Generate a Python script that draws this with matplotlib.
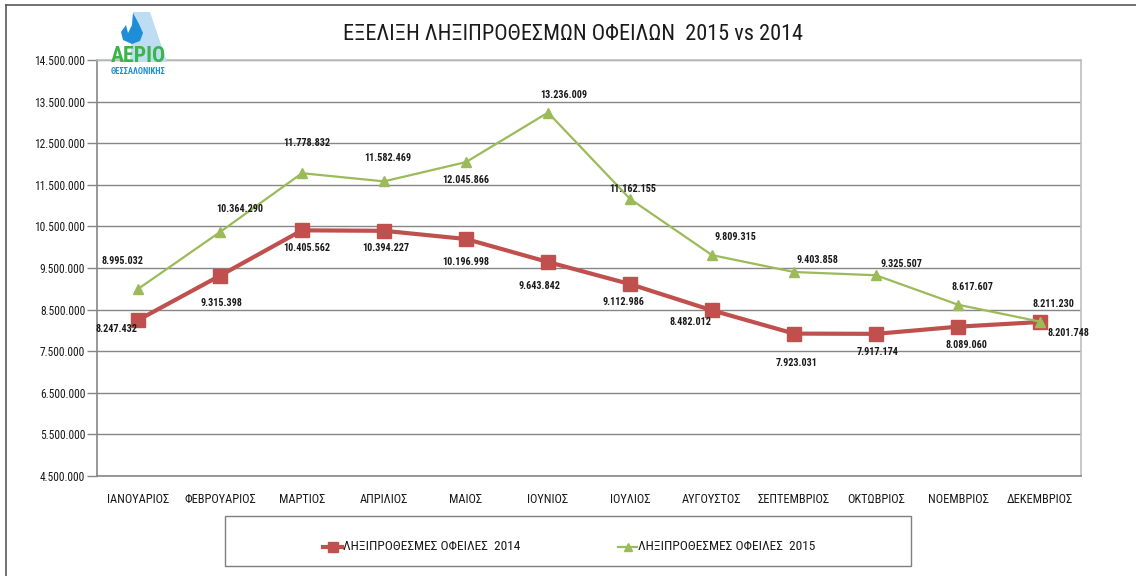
import matplotlib
matplotlib.use("Agg")
import matplotlib.pyplot as plt
from matplotlib import font_manager
from matplotlib.lines import Line2D
from matplotlib.patches import Polygon, Rectangle
from matplotlib.ticker import FuncFormatter

title = "ΕΞΕΛΙΞΗ ΛΗΞΙΠΡΟΘΕΣΜΩΝ ΟΦΕΙΛΩΝ  2015 vs 2014"
months = ["ΙΑΝΟΥΑΡΙΟΣ", "ΦΕΒΡΟΥΑΡΙΟΣ", "ΜΑΡΤΙΟΣ", "ΑΠΡΙΛΙΟΣ", "ΜΑΙΟΣ", "ΙΟΥΝΙΟΣ",
          "ΙΟΥΛΙΟΣ", "ΑΥΓΟΥΣΤΟΣ", "ΣΕΠΤΕΜΒΡΙΟΣ", "ΟΚΤΩΒΡΙΟΣ", "ΝΟΕΜΒΡΙΟΣ", "ΔΕΚΕΜΒΡΙΟΣ"]
label_2014 = "ΛΗΞΙΠΡΟΘΕΣΜΕΣ ΟΦΕΙΛΕΣ  2014"
label_2015 = "ΛΗΞΙΠΡΟΘΕΣΜΕΣ ΟΦΕΙΛΕΣ  2015"
values_2014 = [8247432, 9315398, 10405562, 10394227, 10196998, 9643842,
               9112986, 8482012, 7923031, 7917174, 8089060, 8201748]
values_2015 = [8995032, 10364290, 11778832, 11582469, 12045866, 13236009,
               11162155, 9809315, 9403858, 9325507, 8617607, 8211230]
y_ticks = [4500000, 5500000, 6500000, 7500000, 8500000, 9500000,
           10500000, 11500000, 12500000, 13500000, 14500000]

# label offsets (pixels) relative to each point
off_2014 = [(-22, -9), (1, -27), (5, -18), (2, -17), (0, -23), (-9, -24),
            (-7, -18), (-22, -12), (3, -29), (2, -18), (8, -18), (28, -11)]
off_2015 = [(-16, 28), (20, 23), (5, 30), (4, 23), (0, -18), (16, 18),
            (3, 10), (23, 18), (23, 12), (25, 11), (14, 18), (13, 18)]

available = {f.name for f in font_manager.fontManager.ttflist}
prefs = ["Liberation Sans Narrow", "Arial Narrow", "Roboto Condensed", "DejaVu Sans Condensed",
         "Open Sans Condensed", "Liberation Sans"]
main_font = next((p for p in prefs if p in available), "DejaVu Sans")
plt.rcParams['font.family'] = [main_font, 'DejaVu Sans']

RED = "#C0504D"
GREEN = "#9BBB59"
GRID = "#868686"
TXT = "#1a1a1a"

W, H = 1136, 576
fig = plt.figure(figsize=(W / 100, H / 100), dpi=100)
fig.patch.set_facecolor("white")
renderer = fig.canvas.get_renderer()


def fit_size(s, target_px, weight="normal", base=10.0):
    t = fig.text(0, 0, s, fontsize=base, fontweight=weight)
    w = t.get_window_extent(renderer).width
    t.remove()
    return base * target_px / w


fs_title = fit_size(title, 459)
fs_ytick = fit_size("14.500.000", 51)
fs_xtick = fit_size("ΦΕΒΡΟΥΑΡΙΟΣ", 72)
fs_data = fit_size("10.405.562", 47, weight="bold")
fs_leg = fit_size(label_2014, 178)

# outer chart border (left and top)
fig.add_artist(Line2D([6 / W, 6 / W], [0, 1 - 5 / H], transform=fig.transFigure, color="#595959", lw=1.2))
fig.add_artist(Line2D([6 / W, 1.0], [1 - 5 / H, 1 - 5 / H], transform=fig.transFigure, color="#595959", lw=1.2))

ax = fig.add_axes([97 / W, (H - 476) / H, 984 / W, 416 / H])
x = list(range(len(months)))

l14, = ax.plot(x, values_2014, color=RED, lw=3, marker="s", markersize=9.5, markerfacecolor=RED,
               markeredgecolor=RED, label=label_2014, zorder=3)
l15, = ax.plot(x, values_2015, color=GREEN, lw=1.6, marker="^", markersize=7, markerfacecolor=GREEN,
               markeredgecolor=GREEN, label=label_2015, zorder=4)


def fmt(v):
    return f"{v:,.0f}".replace(",", ".")


for xi, v, (dx, dy) in zip(x, values_2014, off_2014):
    ax.annotate(fmt(v), (xi, v), xytext=(dx, dy), textcoords="offset pixels",
                ha="center", va="center", fontsize=fs_data, fontweight="bold", color=TXT, zorder=5)
for xi, v, (dx, dy) in zip(x, values_2015, off_2015):
    ax.annotate(fmt(v), (xi, v), xytext=(dx, dy), textcoords="offset pixels",
                ha="center", va="center", fontsize=fs_data, fontweight="bold", color=TXT, zorder=5)

ax.set_xlim(-0.5, len(months) - 0.5)
ax.set_ylim(y_ticks[0], y_ticks[-1])
ax.set_yticks(y_ticks)
ax.yaxis.set_major_formatter(FuncFormatter(lambda v, p: fmt(v)))
ax.grid(axis="y", color=GRID, lw=1)
ax.set_axisbelow(True)
ax.set_xticks(x)
ax.set_xticklabels(months, fontsize=fs_xtick, color=TXT)
ax.tick_params(axis="x", length=0, pad=12)
ax.tick_params(axis="y", length=7, width=1, color=GRID, labelsize=fs_ytick, labelcolor=TXT, pad=1.5)
for s in ["left", "bottom"]:
    ax.spines[s].set_color(GRID)
    ax.spines[s].set_linewidth(1.2)
for s in ["right", "top"]:
    ax.spines[s].set_color("#BFBFBF")
    ax.spines[s].set_linewidth(1.2)

fig.text(573 / W, 1 - 34 / H, title, ha="center", va="center", fontsize=fs_title, color=TXT)

# legend box with two entries
lx = lambda px: px / W
ly = lambda py: 1 - py / H
fig.add_artist(Rectangle((lx(225), ly(566)), (911 - 225) / W, (566 - 516) / H, transform=fig.transFigure,
                         facecolor="white", edgecolor="#7F7F7F", lw=1))
for line, hx0, hx1, tx, lab in [(l14, 323, 342, 343, label_2014), (l15, 618, 637, 638, label_2015)]:
    fig.add_artist(Line2D([lx(hx0), lx((hx0 + hx1) / 2), lx(hx1)], [ly(547)] * 3, transform=fig.transFigure,
                          color=line.get_color(), lw=line.get_linewidth(), marker=line.get_marker(),
                          markersize=line.get_markersize() * 0.8, markevery=[1],
                          markerfacecolor=line.get_color(), markeredgecolor=line.get_color()))
    fig.text(lx(tx), ly(547), lab, ha="left", va="center", fontsize=fs_leg, color=TXT)

# logo
fig.add_artist(Polygon([(lx(133), ly(12)), (lx(150), ly(12)), (lx(167), ly(62)), (lx(130), ly(62))],
                       closed=True, transform=fig.transFigure, facecolor="#BFDDF2", edgecolor="none"))
fig.add_artist(Polygon([(lx(133), ly(13)), (lx(139), ly(24)), (lx(143), ly(33)), (lx(140), ly(41)),
                        (lx(132), ly(44)), (lx(123), ly(40)), (lx(121), ly(32)), (lx(126), ly(25)),
                        (lx(128), ly(33)), (lx(132), ly(25))],
                       closed=True, transform=fig.transFigure, facecolor="#1E8FD6", edgecolor="none"))
fs_logo = fit_size("ΑΕΡΙΟ", 55, weight="bold")
fig.text(lx(138), ly(56), "ΑΕΡΙΟ", ha="center", va="center", fontsize=fs_logo, fontweight="bold",
         color="#3CB44A")
fs_logo2 = fit_size("ΘΕΣΣΑΛΟΝΙΚΗΣ", 55, weight="bold")
fig.text(lx(138), ly(71), "ΘΕΣΣΑΛΟΝΙΚΗΣ", ha="center", va="center", fontsize=fs_logo2, fontweight="bold",
         color="#1E8FD6")

fig.savefig("out.png", dpi=100, facecolor="white")
